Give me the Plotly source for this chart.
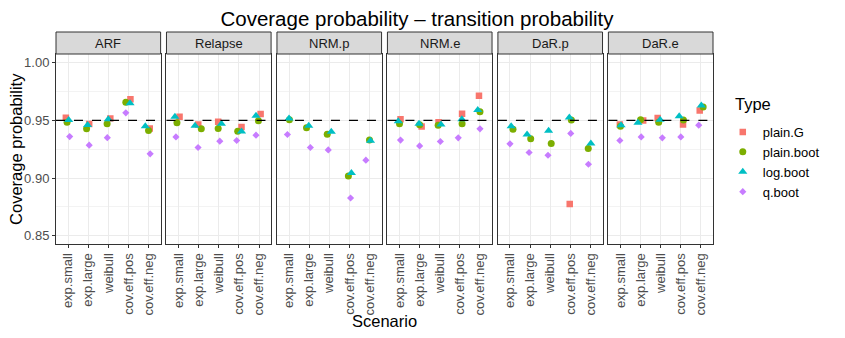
import plotly.graph_objects as go
from plotly.subplots import make_subplots

PANELS = ["ARF", "Relapse", "NRM.p", "NRM.e", "DaR.p", "DaR.e"]
SCENARIOS = ["exp.small", "exp.large", "weibull", "cov.eff.pos", "cov.eff.neg"]
TYPES = ["plain.G", "plain.boot", "log.boot", "q.boot"]

# coverage per panel (rows) and scenario (cols)
PLAIN_G = [
    [0.9523, 0.9468, 0.9517, 0.9683, 0.9430],
    [0.9531, 0.9465, 0.9488, 0.9442, 0.9555],
    [None, None, None, None, None],
    [0.9509, 0.9448, 0.9485, 0.9557, 0.9714],
    [None, None, None, 0.8775, None],
    [0.9465, 0.9500, 0.9520, 0.9465, 0.9587],
]
PLAIN_BOOT = [
    [0.9485, 0.9427, 0.9470, 0.9657, 0.9413],
    [0.9480, 0.9427, 0.9430, 0.9407, 0.9497],
    [0.9505, 0.9436, 0.9380, 0.9018, 0.9331],
    [0.9471, 0.9462, 0.9457, 0.9471, 0.9575],
    [0.9424, 0.9340, 0.9300, 0.9503, 0.9257],
    [0.9450, 0.9505, 0.9483, 0.9503, 0.9616],
]
LOG_BOOT = [
    [0.9503, 0.9460, 0.9510, 0.9648, 0.9450],
    [0.9531, 0.9453, 0.9470, 0.9404, 0.9540],
    [0.9517, 0.9453, 0.9401, 0.9044, 0.9323],
    [0.9492, 0.9470, 0.9465, 0.9509, 0.9590],
    [0.9450, 0.9378, 0.9410, 0.9526, 0.9300],
    [0.9457, 0.9480, 0.9505, 0.9535, 0.9630],
]
Q_BOOT = [
    [0.9360, 0.9285, 0.9350, 0.9566, 0.9210],
    [0.9357, 0.9265, 0.9320, 0.9326, 0.9372],
    [0.9378, 0.9265, 0.9244, 0.8827, 0.9155],
    [0.9329, 0.9279, 0.9317, 0.9349, 0.9427],
    [0.9297, 0.9222, 0.9198, 0.9387, 0.9120],
    [0.9326, 0.9357, 0.9349, 0.9357, 0.9459],
]

# horizontal jitter (in category units) as seen in the picture
JIT_G = [
    [-0.11, 0.05, 0.10, 0.10, 0.06],
    [0.05, -0.02, -0.03, 0.13, 0.08],
    [0, 0, 0, 0, 0],
    [0.05, 0.10, -0.06, 0.11, -0.05],
    [0, 0, 0, -0.03, 0],
    [-0.03, 0.13, -0.15, 0.11, -0.06],
]
JIT_BOOT = [
    [-0.05, -0.08, -0.06, -0.13, 0.00],
    [-0.08, 0.13, -0.03, -0.06, -0.03],
    [0.02, -0.13, -0.10, -0.05, 0.00],
    [0.00, 0.00, -0.08, 0.11, 0.00],
    [0.15, 0.03, 0.05, 0.05, -0.11],
    [0.00, 0.00, -0.10, 0.13, 0.11],
]
JIT_LOG = [
    [0.03, -0.03, 0.00, 0.08, -0.16],
    [-0.18, -0.18, 0.13, 0.13, -0.15],
    [0.00, -0.02, 0.10, 0.10, 0.05],
    [-0.06, -0.03, 0.06, 0.10, -0.11],
    [0.06, -0.15, -0.08, -0.05, 0.02],
    [0.03, -0.13, -0.03, -0.08, 0.02],
]
JIT_Q = [
    [0.08, 0.05, -0.05, -0.13, 0.08],
    [-0.13, -0.03, 0.05, -0.11, -0.15],
    [-0.08, 0.06, -0.05, 0.06, -0.18],
    [0.05, 0.00, 0.03, -0.08, 0.00],
    [0.00, -0.05, -0.11, 0.02, -0.10],
    [-0.03, 0.03, 0.08, 0.00, -0.11],
]

SERIES = {
    "plain.G": (PLAIN_G, JIT_G),
    "plain.boot": (PLAIN_BOOT, JIT_BOOT),
    "log.boot": (LOG_BOOT, JIT_LOG),
    "q.boot": (Q_BOOT, JIT_Q),
}
STYLE = {
    "plain.G": dict(color="#F8766D", symbol="square", size=6.5),
    "plain.boot": dict(color="#7CAE00", symbol="circle", size=7),
    "log.boot": dict(color="#00BFC4", symbol="triangle-up", size=8),
    "q.boot": dict(color="#C77CFF", symbol="diamond", size=5.5),
}

FONT = "Liberation Sans, Arial, sans-serif"
GRID = "#EBEBEB"
DARK = "#333333"
PLOT_W, PLOT_H = 672, 190
# the page body has an 8px margin, so the figure is a bit smaller than the window
FIG_W, FIG_H = 829, 322

fig = make_subplots(rows=1, cols=6, shared_yaxes=True, horizontal_spacing=6 / PLOT_W)

for i, panel in enumerate(PANELS):
    for t in TYPES:
        vals, jit = SERIES[t]
        xs = [k + 1 + jit[i][k] for k in range(len(SCENARIOS))]
        st = STYLE[t]
        fig.add_trace(go.Scatter(
            x=xs, y=vals[i], mode="markers", name=t,
            legendgroup=t, showlegend=(i == 0),
            marker=dict(color=st["color"], symbol=st["symbol"], size=st["size"],
                        line=dict(width=0)),
            hovertemplate=panel + "<br>%{y:.3f}<extra>" + t + "</extra>",
        ), row=1, col=i + 1)

    fig.update_xaxes(
        range=[0.4, 5.6], tickvals=[1, 2, 3, 4, 5], ticktext=SCENARIOS,
        tickangle=-90, showgrid=True, gridcolor=GRID, gridwidth=1,
        showline=True, mirror=True, linecolor=DARK, linewidth=1,
        ticks="outside", ticklen=3, tickcolor=DARK, automargin=False,
        tickfont=dict(family=FONT, size=13, color="#4D4D4D"),
        zeroline=False, row=1, col=i + 1,
    )
    fig.update_yaxes(
        range=[0.8428, 1.0076], tickvals=[0.85, 0.90, 0.95, 1.00],
        ticktext=["0.85", "0.90", "0.95", "1.00"],
        showgrid=True, gridcolor=GRID, gridwidth=1,
        minor=dict(tickvals=[0.875, 0.925, 0.975], showgrid=True,
                   gridcolor="#F3F3F3", gridwidth=0.6, ticks=""),
        showline=True, mirror=True, linecolor=DARK, linewidth=1,
        ticks="outside" if i == 0 else "", ticklen=3, tickcolor=DARK,
        showticklabels=(i == 0), automargin=False,
        tickfont=dict(family=FONT, size=13, color="#4D4D4D"),
        zeroline=False, row=1, col=i + 1,
    )

    # facet strip
    xref = "x domain" if i == 0 else f"x{i + 1} domain"
    yref = "y domain" if i == 0 else f"y{i + 1} domain"
    fig.add_shape(type="rect", xref=xref, yref=yref, x0=0, x1=1, y0=1, y1=1 + 22 / PLOT_H,
                  fillcolor="#D9D9D9", line=dict(color=DARK, width=1), layer="above")
    fig.add_annotation(text=panel, xref=xref, yref=yref, x=0.5, y=1 + 11 / PLOT_H,
                       showarrow=False, font=dict(family=FONT, size=13, color="#1A1A1A"),
                       yanchor="middle")

fig.add_hline(y=0.95, line=dict(color="black", width=1.2, dash="dash"), row="all", col="all")

fig.add_annotation(text="Scenario", xref="paper", yref="paper", x=0.5, y=-77 / PLOT_H,
                   showarrow=False, font=dict(family=FONT, size=16.5, color="black"),
                   yanchor="middle")
fig.add_annotation(text="Coverage probability", xref="paper", yref="paper",
                   x=(15 - 56) / PLOT_W, y=0.5, textangle=-90, showarrow=False,
                   font=dict(family=FONT, size=16.5, color="black"), xanchor="center")
fig.add_annotation(text="Type", xref="paper", yref="paper",
                   x=(748 - 56) / PLOT_W, y=(244 - 104) / PLOT_H, xanchor="left",
                   yanchor="middle", showarrow=False,
                   font=dict(family=FONT, size=16.5, color="black"))

fig.update_layout(
    width=FIG_W, height=FIG_H,
    title=dict(text="Coverage probability \u2013 transition probability",
               x=409 / FIG_W, xref="container", xanchor="center",
               y=1 - 4 / FIG_H, yref="container", yanchor="top",
               pad=dict(t=0, b=0),
               font=dict(family=FONT, size=20.5, color="black")),
    plot_bgcolor="white", paper_bgcolor="white",
    margin=dict(l=48, r=FIG_W - 48 - PLOT_W, t=46, b=FIG_H - 46 - PLOT_H),
    legend=dict(x=(738 - 56) / PLOT_W, xanchor="left", y=(244 - 117) / PLOT_H, yanchor="top",
                font=dict(family=FONT, size=13, color="black"),
                itemsizing="trace", tracegroupgap=0, bgcolor="rgba(0,0,0,0)"),
    showlegend=True,
)

fig.write_html("out.html")
